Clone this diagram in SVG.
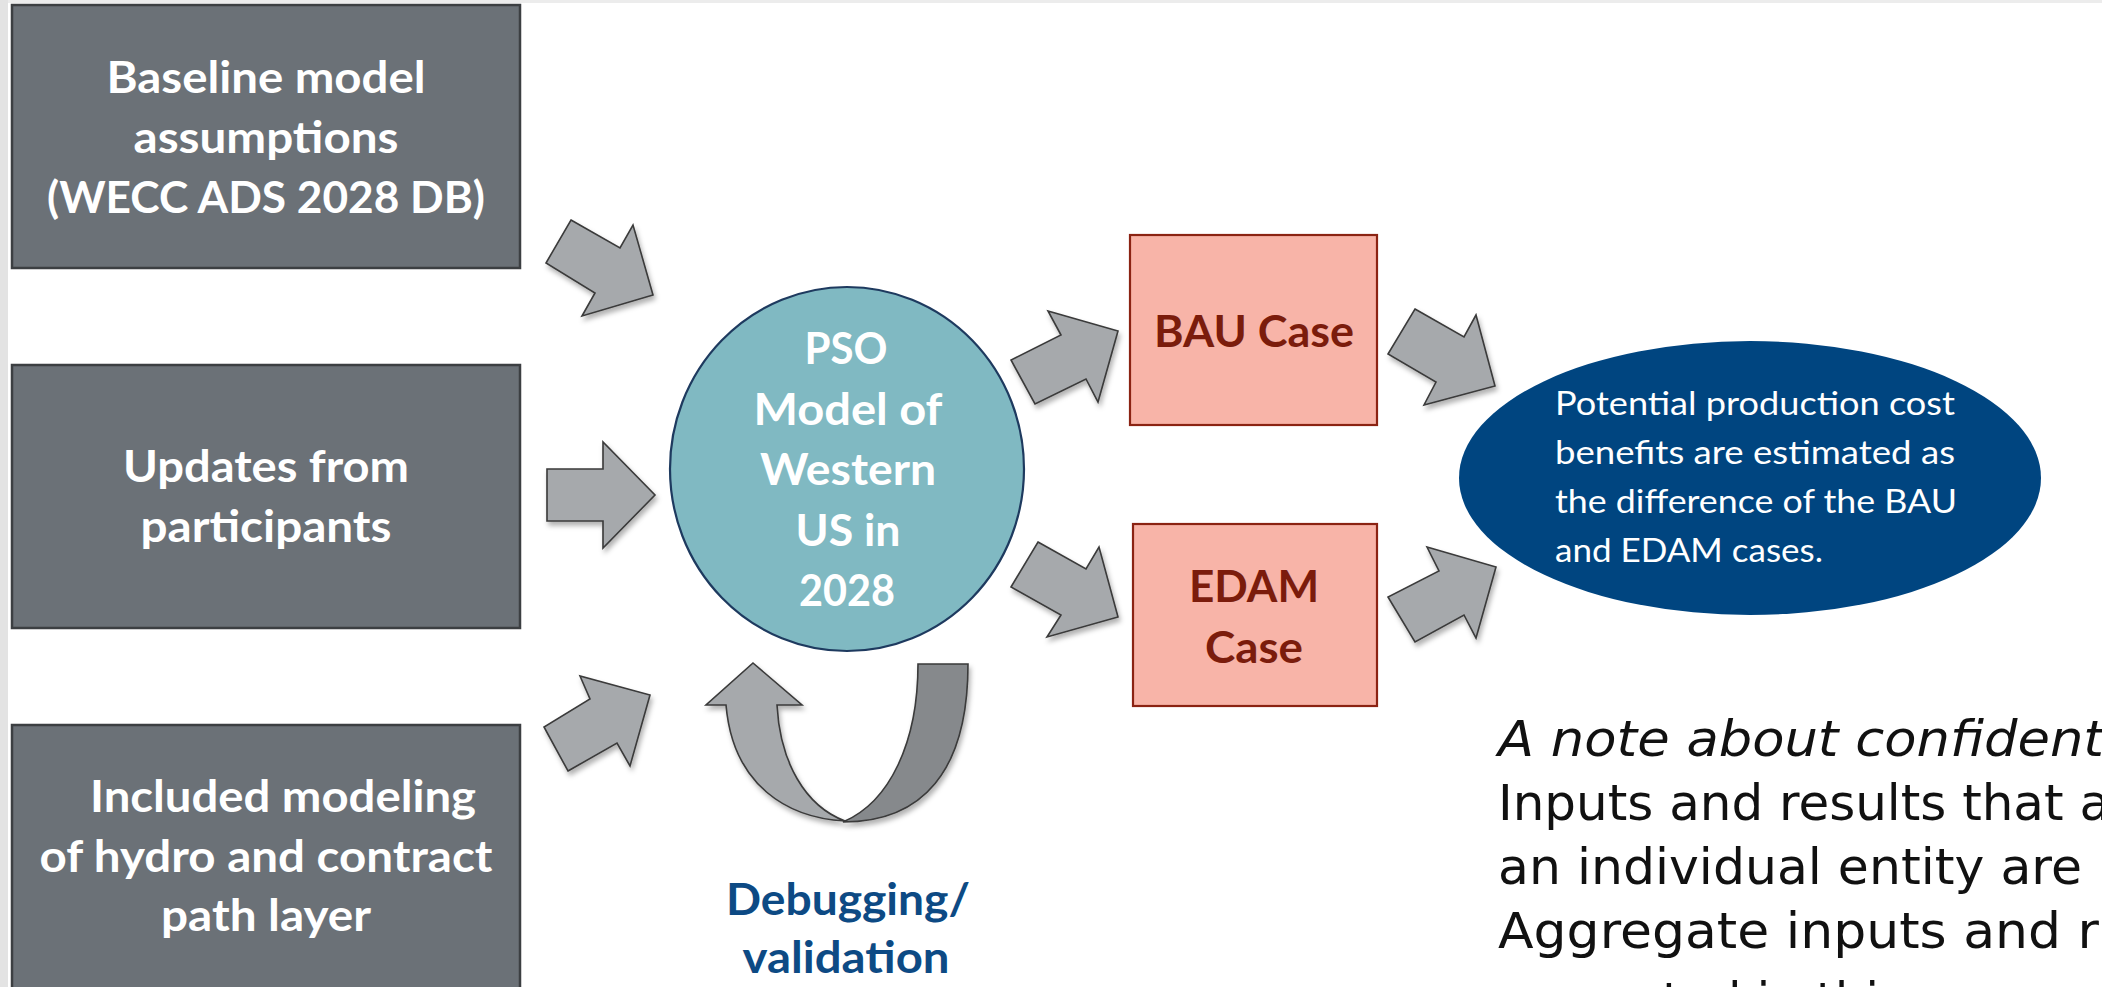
<svg xmlns="http://www.w3.org/2000/svg" width="2102" height="987" viewBox="0 0 2102 987">
<defs>
<style>
.box{fill:#6b7177;stroke:#3c3f42;stroke-width:2.5}
.bt{font-family:Lato,"Liberation Sans",sans-serif;font-weight:700;font-size:44px;fill:#ffffff;text-anchor:middle}
.arrow{fill:#a6a9ac;stroke:#3a3a3a;stroke-width:1.6;stroke-linejoin:miter}
.dark{fill:#86898c;stroke:#3a3a3a;stroke-width:1.6}
.case{fill:#f8b4a8;stroke:#8b2313;stroke-width:2.2}
.ct{font-family:Lato,"Liberation Sans",sans-serif;font-weight:700;font-size:44px;fill:#7b1c0c;text-anchor:middle}
.pso{fill:#80b9c2;stroke:#1e3a5f;stroke-width:2.2}
.res{fill:#004580}
.rt{font-family:Lato,"Liberation Sans",sans-serif;font-size:32px;fill:#ffffff}
.dbg{font-family:Lato,"Liberation Sans",sans-serif;font-weight:700;font-size:44px;fill:#0d4a84;text-anchor:middle}
.note{font-family:"DejaVu Sans","Liberation Sans",sans-serif;font-size:50px;fill:#111111}
</style>
<filter id="sh" x="-20%" y="-20%" width="150%" height="150%">
<feDropShadow dx="2" dy="4" stdDeviation="2.5" flood-color="#000000" flood-opacity="0.3"/>
</filter>
</defs>
<rect x="0" y="0" width="2102" height="987" fill="#ffffff"/>
<rect x="0" y="0" width="2102" height="3" fill="#ececec"/>
<rect x="0" y="0" width="8" height="987" fill="#e3e3e3"/>

<g id="node-baseline">
<rect class="box" x="12" y="5" width="508" height="263"/>
<text class="bt" x="266" y="93" textLength="319" lengthAdjust="spacingAndGlyphs">Baseline model</text>
<text class="bt" x="266" y="153" textLength="265" lengthAdjust="spacingAndGlyphs">assumptions</text>
<text class="bt" x="266" y="213" textLength="438" lengthAdjust="spacingAndGlyphs">(WECC ADS 2028 DB)</text>
</g>

<g id="node-updates">
<rect class="box" x="12" y="365" width="508" height="263"/>
<text class="bt" x="266" y="482" textLength="286" lengthAdjust="spacingAndGlyphs">Updates from</text>
<text class="bt" x="266" y="542" textLength="251" lengthAdjust="spacingAndGlyphs">participants</text>
</g>

<g id="node-hydro">
<rect class="box" x="12" y="725" width="508" height="280"/>
<text class="bt" x="283" y="812" textLength="386" lengthAdjust="spacingAndGlyphs">Included modeling</text>
<text class="bt" x="266" y="872" textLength="453" lengthAdjust="spacingAndGlyphs">of hydro and contract</text>
<text class="bt" x="266" y="931" textLength="210" lengthAdjust="spacingAndGlyphs">path layer</text>
</g>

<g id="node-pso">
<ellipse class="pso" cx="847" cy="469" rx="177" ry="182"/>
<text class="bt" x="846" y="364" textLength="83" lengthAdjust="spacingAndGlyphs">PSO</text>
<text class="bt" x="848" y="425" textLength="189" lengthAdjust="spacingAndGlyphs">Model of</text>
<text class="bt" x="848" y="485" textLength="176" lengthAdjust="spacingAndGlyphs">Western</text>
<text class="bt" x="848" y="546" textLength="105" lengthAdjust="spacingAndGlyphs">US in</text>
<text class="bt" x="847" y="606" textLength="96" lengthAdjust="spacingAndGlyphs">2028</text>
</g>

<g id="node-bau">
<rect class="case" x="1130" y="235" width="247" height="190"/>
<text class="ct" x="1254" y="347" textLength="200" lengthAdjust="spacingAndGlyphs">BAU Case</text>
</g>

<g id="node-edam">
<rect class="case" x="1133" y="524" width="244" height="182"/>
<text class="ct" x="1254" y="602" textLength="130" lengthAdjust="spacingAndGlyphs">EDAM</text>
<text class="ct" x="1254" y="663" textLength="98" lengthAdjust="spacingAndGlyphs">Case</text>
</g>

<g id="node-result">
<ellipse class="res" cx="1750" cy="478" rx="291" ry="137"/>
<text class="rt" x="1555" y="415" textLength="400" lengthAdjust="spacingAndGlyphs">Potential production cost</text>
<text class="rt" x="1555" y="464" textLength="400" lengthAdjust="spacingAndGlyphs">benefits are estimated as</text>
<text class="rt" x="1555" y="513" textLength="402" lengthAdjust="spacingAndGlyphs">the difference of the BAU</text>
<text class="rt" x="1555" y="562" textLength="268" lengthAdjust="spacingAndGlyphs">and EDAM cases.</text>
</g>

<g id="node-debugging">
<text class="dbg" x="848" y="915" textLength="244" lengthAdjust="spacingAndGlyphs">Debugging/</text>
<text class="dbg" x="846" y="973" textLength="207" lengthAdjust="spacingAndGlyphs">validation</text>
</g>

<g id="connectors" filter="url(#sh)">
<polygon class="arrow" points="571,220 620,248 633,225 653,295 582,316 595,293 546,263"/>
<polygon class="arrow" points="547,469 603,469 603,442 655,495 603,548 603,521 547,521"/>
<polygon class="arrow" points="568,771 617,743 630,766 650,695 580,676 590,699 544,727"/>
<polygon class="arrow" points="1048,311 1118,331 1098,402 1086,379 1035,404 1011,360 1061,335"/>
<polygon class="arrow" points="1038,542 1086,569 1099,547 1118,617 1047,637 1061,615 1011,587"/>
<polygon class="arrow" points="1415,309 1464,337 1476,315 1495,386 1424,405 1436,382 1388,354"/>
<polygon class="arrow" points="1427,547 1496,567 1476,638 1464,615 1415,642 1388,597 1439,571"/>
<path class="dark" d="M918,664 L968,664 C968,772 922,822 843,822 C890,802 918,742 918,664 Z"/>
<path class="arrow" d="M753,663 L802,705 L777,705 C780,762 805,806 845,821 C788,818 733,786 726,705 L706,705 Z"/>
</g>

<g id="note">
<text class="note" x="1498" y="756" font-style="italic" textLength="606" lengthAdjust="spacingAndGlyphs">A note about confident</text>
<text class="note" x="1498" y="820" textLength="612" lengthAdjust="spacingAndGlyphs">Inputs and results that a</text>
<text class="note" x="1498" y="884" textLength="584" lengthAdjust="spacingAndGlyphs">an individual entity are</text>
<text class="note" x="1498" y="948" textLength="601" lengthAdjust="spacingAndGlyphs">Aggregate inputs and r</text>
<text class="note" x="1498" y="1018" textLength="406" lengthAdjust="spacingAndGlyphs">presented in this</text>
</g>
</svg>
